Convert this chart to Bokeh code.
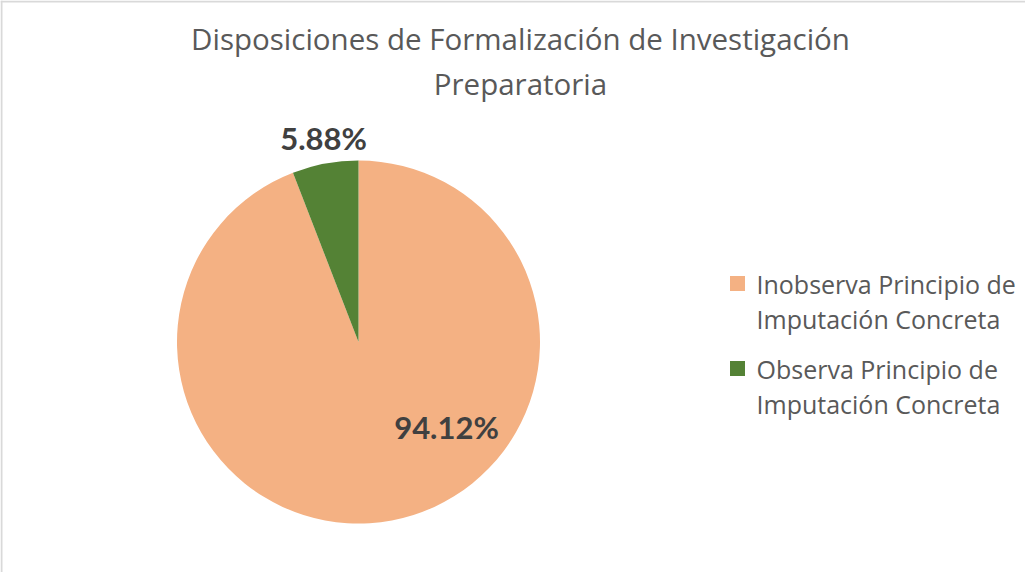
import math
from bokeh.plotting import figure
from bokeh.models import ColumnDataSource, Range1d, Span
from bokeh.core.properties import value
from bokeh.embed import file_html
from bokeh.resources import INLINE

title_lines = ["Disposiciones de Formalización de Investigación", "Preparatoria"]
categories = ["Inobserva Principio de\nImputación Concreta", "Observa Principio de\nImputación Concreta"]
values = [94.12, 5.88]
colors = ["#F4B183", "#548235"]

W, H = 1025, 572
p = figure(width=W, height=H, output_backend="svg", toolbar_location=None,
           x_range=Range1d(0, W), y_range=Range1d(H, 0), min_border=0)
p.axis.visible = False
p.grid.visible = False
p.outline_line_color = None
p.background_fill_color = "white"
p.border_fill_color = "white"

# chart border (only top/left visible inside window)
p.add_layout(Span(location=1, dimension="height", line_color="#D9D9D9", line_width=2))
p.add_layout(Span(location=1, dimension="width", line_color="#D9D9D9", line_width=2))

# pie
cx, cy, r = 358, 341.5, 181.5
total = sum(values)
starts, ends = [], []
a = math.pi / 2
for v in values:
    starts.append(a)
    a = a - v / total * 2 * math.pi
    ends.append(a)

src = ColumnDataSource(dict(cat=categories, val=values, color=colors,
                            start=starts, end=ends,
                            x=[cx] * len(values), y=[cy] * len(values)))
p.wedge(x="x", y="y", radius=r, radius_units="screen", start_angle="start", end_angle="end",
        direction="clock", fill_color="color", line_color=None, source=src)

# data labels
label_pos = [(446, 426), (323, 137)]
lsrc = ColumnDataSource(dict(x=[q[0] for q in label_pos], y=[q[1] for q in label_pos],
                             t=["{:.2f}%".format(v) for v in values]))
p.text(x="x", y="y", text="t", source=lsrc, text_align="center", text_baseline="middle",
       text_font=value("Lato"), text_font_style="bold", text_font_size="31px", text_color="#404040")

# title
tsrc = ColumnDataSource(dict(x=[520] * len(title_lines),
                             y=[38 + i * 44.5 for i in range(len(title_lines))],
                             t=title_lines))
p.text(x="x", y="y", text="t", source=tsrc, text_align="center", text_baseline="middle",
       text_font=value("Open Sans"), text_font_size="29.5px", text_color="#595959")

# legend (square aligned with first line of each label)
sq_x, sq_y, txt_x = 737, 283, 756
entry_gap, line_gap = 85, 35.5
rsrc = ColumnDataSource(dict(x=[sq_x] * len(categories),
                             y=[sq_y + i * entry_gap for i in range(len(categories))],
                             color=colors))
p.rect(x="x", y="y", width=15, height=15, width_units="screen", height_units="screen",
       fill_color="color", line_color=None, source=rsrc)
lx, ly, lt = [], [], []
for i, c in enumerate(categories):
    for j, line in enumerate(c.split("\n")):
        lx.append(txt_x)
        ly.append(sq_y + i * entry_gap + j * line_gap)
        lt.append(line)
p.text(x=lx, y=ly, text=lt, text_align="left", text_baseline="middle",
       text_font=value("Open Sans"), text_font_size="25px", text_color="#595959")

open("out.html", "w").write(file_html(p, INLINE))
